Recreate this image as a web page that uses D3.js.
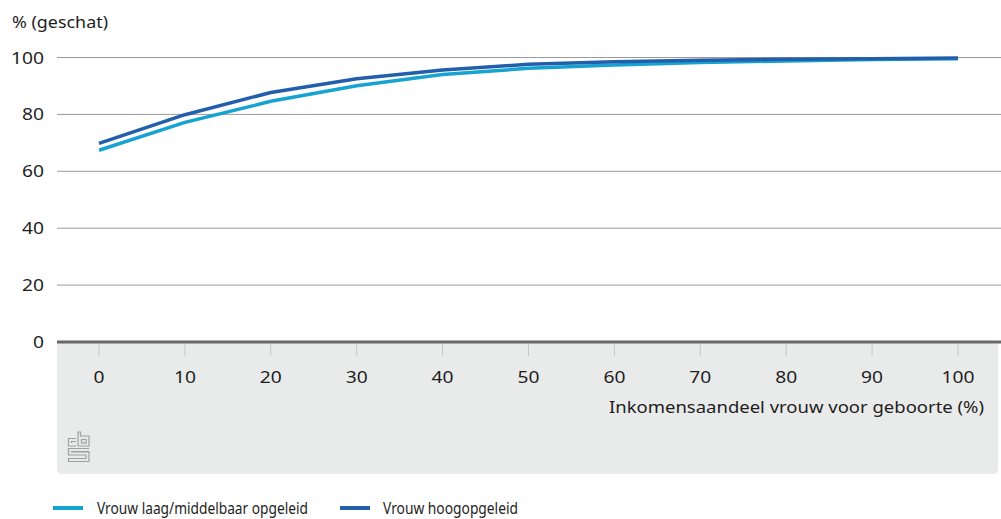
<!DOCTYPE html>
<html><head><meta charset="utf-8">
<script src="https://cdn.jsdelivr.net/npm/d3@7"></script>
<style>body{margin:0;background:#fff}svg{display:block;font-family:"Noto Sans",sans-serif}</style>
</head><body><svg id="c" width="1001" height="519"></svg>
<script>
const xValues = [0,10,20,30,40,50,60,70,80,90,100];
const laag = [67.4,77.2,84.6,90.1,94.0,96.2,97.4,98.2,98.8,99.3,99.6];
const hoog = [69.8,79.9,87.7,92.5,95.6,97.6,98.5,99.0,99.4,99.6,99.8];
const yTicks = [0,20,40,60,80,100];
const xTicks = [0,10,20,30,40,50,60,70,80,90,100];
const seriesNames = ["Vrouw laag/middelbaar opgeleid","Vrouw hoogopgeleid"];
const colors = ["#16a3d2","#225fab"];

const svg = d3.select("#c");
const x = d3.scaleLinear().domain([0,100]).range([99,958]);
const y = d3.scaleLinear().domain([0,100]).range([342,57.5]);
const txt = "#1e1e1e";

// grey box
svg.append("path").attr("fill","#e9eaea")
  .attr("d","M57,342 H998 V469 Q998,474 993,474 H62 Q57,474 57,469 Z");

// gridlines
svg.append("g").selectAll("line").data(yTicks.filter(d=>d>0)).join("line")
  .attr("x1",57).attr("x2",1001).attr("y1",d=>y(d)).attr("y2",d=>y(d))
  .attr("stroke","#9a9a9a").attr("stroke-width",1);
// y labels
svg.append("g").selectAll("text").data(yTicks).join("text")
  .attr("x",44).attr("y",d=>y(d)+6).attr("text-anchor","end")
  .attr("font-size",17).attr("fill",txt)
  .attr("textLength",d=>String(d).length*11).attr("lengthAdjust","spacingAndGlyphs").text(d=>d);
svg.append("text").attr("x",12).attr("y",28).attr("font-size",17).attr("fill",txt)
  .attr("textLength",96).attr("lengthAdjust","spacingAndGlyphs").text("% (geschat)");

// x ticks
svg.append("g").selectAll("line").data(xTicks).join("line")
  .attr("x1",d=>x(d)).attr("x2",d=>x(d)).attr("y1",344).attr("y2",356)
  .attr("stroke","#c8c8c8").attr("stroke-width",1);
svg.append("g").selectAll("text").data(xTicks).join("text")
  .attr("x",d=>x(d)).attr("y",383).attr("text-anchor","middle")
  .attr("font-size",17).attr("fill",txt)
  .attr("textLength",d=>String(d).length*11).attr("lengthAdjust","spacingAndGlyphs").text(d=>d);
svg.append("text").attr("x",984).attr("y",413).attr("text-anchor","end")
  .attr("font-size",17).attr("fill",txt)
  .attr("textLength",375).attr("lengthAdjust","spacingAndGlyphs").text("Inkomensaandeel vrouw voor geboorte (%)");

// baseline
svg.append("line").attr("x1",57).attr("x2",1001).attr("y1",y(0)).attr("y2",y(0))
  .attr("stroke","#686868").attr("stroke-width",3);

// lines
const line = d3.line().x((d,i)=>x(xValues[i])).y(d=>y(d));
[laag,hoog].forEach((s,i)=>{
  svg.append("path").datum(s).attr("d",line).attr("fill","none")
    .attr("stroke",colors[i]).attr("stroke-width",3.5).attr("stroke-linejoin","round");
});

// cbs logo
const lg = svg.append("g").attr("fill","none").attr("stroke","#a0a0a0").attr("stroke-width",1.2);
lg.append("path").attr("d","M76,438.5 H68.5 V446 H76 M76,441.5 H71.5 V443");
lg.append("path").attr("d","M78,432 H80.5 V436 H89 V446 H78 Z");
lg.append("rect").attr("x",81.5).attr("y",439.5).attr("width",4.5).attr("height",3.5);
lg.append("path").attr("d","M89,448.5 H68.5 V455 H86 V458.5 H68.5 V461.5 H89 V452 H71.5 V451.5 H89");

// legend
const leg = [{x:53,tx:97,w:211},{x:340,tx:383,w:135}];
leg.forEach((l,i)=>{
  svg.append("line").attr("x1",l.x).attr("x2",l.x+30).attr("y1",508).attr("y2",508)
    .attr("stroke",colors[i]).attr("stroke-width",4);
  svg.append("text").attr("x",l.tx).attr("y",514).attr("font-size",17).attr("fill",txt)
    .attr("textLength",l.w).attr("lengthAdjust","spacingAndGlyphs").text(seriesNames[i]);
});
</script></body></html>
